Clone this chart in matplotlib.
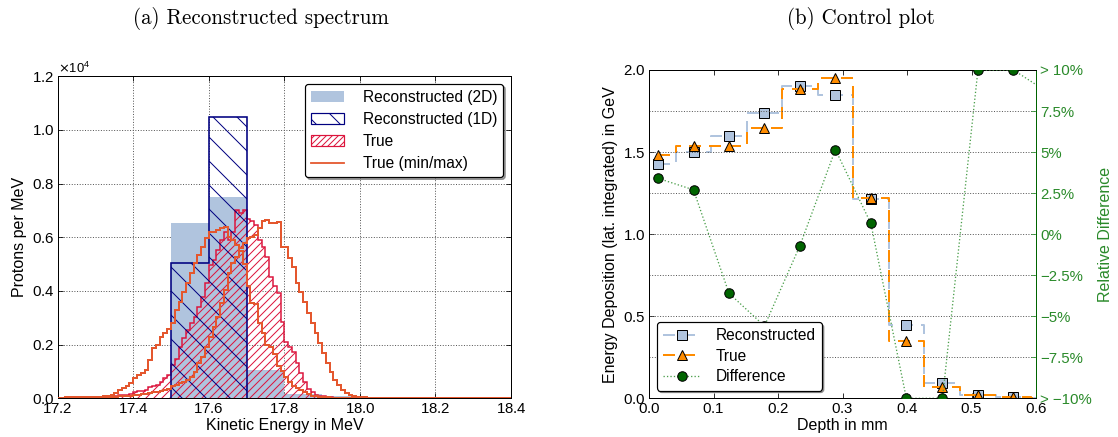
import numpy as np
import matplotlib
matplotlib.use("Agg")
import matplotlib.pyplot as plt
from matplotlib.patches import Patch
from matplotlib.lines import Line2D

plt.rcParams.update({
    "font.family": ["Liberation Sans", "DejaVu Sans"],
    "axes.formatter.use_mathtext": True,
    "axes.linewidth": 1.0,
    "hatch.linewidth": 1.0,
    "legend.edgecolor": "black",
})

# ---------------- (a) spectrum data (units of 1e4 protons per MeV) ----------------
reco2d_edges = [17.5, 17.6, 17.7, 17.8, 17.9, 18.0, 18.1]
reco2d_vals = [0.654, 0.751, 0.105, 0.015, 0.010, 0.006]

reco1d_edges = [17.5, 17.6, 17.7]
reco1d_vals = [0.506, 1.050]

fine_start = 17.20
fine_width = 0.01
true_vals = [
    0.002, 0.002, 0.003, 0.002, 0.003, 0.003, 0.004, 0.003, 0.004, 0.004,
    0.004, 0.005, 0.006, 0.007, 0.008, 0.010, 0.011, 0.012, 0.014, 0.016,
    0.022, 0.026, 0.028, 0.030, 0.043, 0.045, 0.050, 0.062, 0.075, 0.087,
    0.124, 0.145, 0.190, 0.223, 0.254, 0.280, 0.304, 0.341, 0.378, 0.428,
    0.496, 0.515, 0.552, 0.590, 0.620, 0.590, 0.620, 0.700, 0.690, 0.700,
    0.670, 0.660, 0.645, 0.590, 0.565, 0.527, 0.453, 0.420, 0.391, 0.285,
    0.210, 0.190, 0.174, 0.130, 0.095, 0.060, 0.035, 0.022, 0.014, 0.009,
    0.007, 0.005, 0.003, 0.002, 0.002, 0.001, 0.001, 0.001, 0.000, 0.000,
    0.000, 0.000, 0.000, 0.000, 0.000, 0.000, 0.000, 0.000, 0.000, 0.000,
]
true_min_vals = [
    0.002, 0.002, 0.003, 0.003, 0.003, 0.004, 0.004, 0.004, 0.005, 0.005,
    0.005, 0.006, 0.007, 0.009, 0.012, 0.020, 0.031, 0.037, 0.045, 0.056,
    0.074, 0.087, 0.095, 0.105, 0.143, 0.186, 0.200, 0.229, 0.242, 0.260,
    0.279, 0.329, 0.360, 0.397, 0.428, 0.466, 0.503, 0.534, 0.565, 0.596,
    0.620, 0.620, 0.627, 0.635, 0.639, 0.600, 0.590, 0.570, 0.550, 0.500,
    0.420, 0.355, 0.350, 0.280, 0.242, 0.200, 0.190, 0.165, 0.120, 0.100,
    0.080, 0.060, 0.045, 0.037, 0.030, 0.025, 0.015, 0.010, 0.007, 0.005,
    0.004, 0.003, 0.002, 0.002, 0.001, 0.001, 0.001, 0.000, 0.000, 0.000,
    0.000, 0.000, 0.000, 0.000, 0.000, 0.000, 0.000, 0.000, 0.000, 0.000,
]
true_max_vals = [
    0.001, 0.001, 0.001, 0.002, 0.002, 0.002, 0.002, 0.003, 0.003, 0.003,
    0.003, 0.004, 0.004, 0.005, 0.005, 0.006, 0.007, 0.008, 0.009, 0.010,
    0.012, 0.013, 0.015, 0.017, 0.020, 0.022, 0.025, 0.028, 0.031, 0.035,
    0.045, 0.050, 0.056, 0.062, 0.068, 0.080, 0.099, 0.130, 0.155, 0.192,
    0.229, 0.267, 0.304, 0.354, 0.403, 0.466, 0.503, 0.527, 0.560, 0.580,
    0.596, 0.600, 0.610, 0.633, 0.660, 0.665, 0.655, 0.655, 0.657, 0.565,
    0.565, 0.521, 0.490, 0.428, 0.397, 0.360, 0.317, 0.279, 0.242, 0.205,
    0.168, 0.130, 0.099, 0.068, 0.050, 0.031, 0.019, 0.012, 0.009, 0.006,
    0.004, 0.003, 0.002, 0.002, 0.001, 0.001, 0.001, 0.000, 0.000, 0.000,
]
energy_ticks = [17.2, 17.4, 17.6, 17.8, 18.0, 18.2, 18.4]

# ---------------- (b) control plot data ----------------
depth_mm = [0.014, 0.069, 0.124, 0.179, 0.234, 0.289, 0.344, 0.399, 0.455, 0.510, 0.565, 0.620]
edep_reco = [1.430, 1.500, 1.600, 1.740, 1.900, 1.850, 1.215, 0.445, 0.092, 0.018, 0.006, 0.002]
edep_true = [1.480, 1.540, 1.540, 1.645, 1.885, 1.950, 1.220, 0.350, 0.070, 0.020, 0.005, 0.002]
rel_diff_pct = [3.4, 2.7, -3.6, -5.6, -0.7, 5.15, 0.65, -10.0, -10.0, 10.0, 10.0, 8.6]
diff_ticks = [-10, -7.5, -5, -2.5, 0, 2.5, 5, 7.5, 10]
diff_ticklabels = ["> \u221210%", "\u22127.5%", "\u22125%", "\u22122.5%", "0%",
                   "2.5%", "5%", "7.5%", "> 10%"]

SCALE = 1e4
C_2D = "#b0c4de"
C_1D = "#000080"
C_TRUE = "#dc143c"
C_MINMAX = "#e4572e"
C_ORANGE = "#ff8c00"
C_GREEN_TXT = "#2a8a2a"
C_GREEN_MK = "#006400"
C_GREEN_LN = "#4a9e4a"

TICK_FS = 15
LABEL_FS = 16
LEGEND_FS = 15.5

W, H = 1118, 437
DPI = 72
fig = plt.figure(figsize=(W / DPI, H / DPI), dpi=DPI, facecolor="white")

ax_a = fig.add_axes([57.7 / W, 1 - 398.3 / H, (511 - 57.7) / W, (398.3 - 76.3) / H])
ax_b = fig.add_axes([649 / W, 1 - 398.3 / H, (1036 - 649) / W, (398.3 - 70) / H])

# ---------------- panel (a) ----------------
n_fine = len(true_vals)
fine_edges = np.round(fine_start + fine_width * np.arange(n_fine + 1), 3)
pad_bins = int(round((18.4 - fine_edges[-1]) / fine_width))
pad_edges = np.round(fine_edges[-1] + fine_width * np.arange(1, pad_bins + 1), 3)
line_edges = np.concatenate([fine_edges, pad_edges])

ax_a.stairs(np.array(reco2d_vals) * SCALE, reco2d_edges, fill=True,
            facecolor=C_2D, edgecolor="none", linewidth=0, zorder=1)
ax_a.stairs(np.array(true_vals) * SCALE, fine_edges, fill=True,
            facecolor="none", edgecolor=C_TRUE, hatch="///", linewidth=1.5, zorder=2)
ax_a.stairs(np.array(reco1d_vals) * SCALE, reco1d_edges, fill=True,
            facecolor="none", edgecolor=C_1D, hatch="\\", linewidth=1.6, zorder=3)
for vals in (true_min_vals, true_max_vals):
    padded = np.concatenate([vals, np.zeros(pad_bins)])
    ax_a.stairs(padded * SCALE, line_edges, fill=False,
                edgecolor=C_MINMAX, linewidth=2.0, zorder=4)

ax_a.set_xlim(17.2, 18.4)
ax_a.set_ylim(0, 1.2 * SCALE)
ax_a.set_xticks(energy_ticks)
ax_a.set_yticks(np.arange(0, 1.21, 0.2) * SCALE)
ax_a.ticklabel_format(axis="y", style="sci", scilimits=(0, 0))
ax_a.yaxis.get_offset_text().set_fontsize(TICK_FS - 2)
ax_a.grid(True, linestyle=":", color="0.35", linewidth=1.0)
ax_a.set_axisbelow(True)
ax_a.tick_params(direction="in", top=True, right=True, length=5, labelsize=TICK_FS)
ax_a.set_xlabel("Kinetic Energy in MeV", fontsize=LABEL_FS, labelpad=2)
ax_a.set_ylabel("Protons per MeV", fontsize=LABEL_FS, labelpad=5)

handles_a = [
    Patch(facecolor=C_2D, edgecolor="none"),
    Patch(facecolor="none", edgecolor=C_1D, hatch="\\", linewidth=1.2),
    Patch(facecolor="none", edgecolor=C_TRUE, hatch="////", linewidth=1.2),
    Line2D([], [], color=C_MINMAX, linewidth=1.8),
]
labels_a = ["Reconstructed (2D)", "Reconstructed (1D)", "True", "True (min/max)"]
leg_a = ax_a.legend(handles_a, labels_a, loc="upper right", fontsize=LEGEND_FS,
                    fancybox=True, shadow=True, framealpha=1, handlelength=2.1,
                    handleheight=0.7, handletextpad=1.2, borderpad=0.4,
                    labelspacing=0.45, borderaxespad=0.5)
leg_a.get_frame().set_linewidth(1.2)

# ---------------- panel (b) ----------------
ax_d = ax_b.twinx()

ln_reco, = ax_b.plot(depth_mm, edep_reco, drawstyle="steps-mid", color=C_2D,
                     linestyle="--", dashes=(6, 4), linewidth=2,
                     marker="s", markersize=9.5, markerfacecolor=C_2D,
                     markeredgecolor="black", markeredgewidth=1.0, zorder=3)
ln_true, = ax_b.plot(depth_mm, edep_true, drawstyle="steps-mid", color=C_ORANGE,
                     linestyle="--", dashes=(6, 4), linewidth=2,
                     marker="^", markersize=10, markerfacecolor=C_ORANGE,
                     markeredgecolor="black", markeredgewidth=1.0, zorder=4)
ln_diff, = ax_d.plot(depth_mm, rel_diff_pct, color=C_GREEN_LN, linestyle=":",
                     linewidth=1.3, marker="o", markersize=9.5,
                     markerfacecolor=C_GREEN_MK, markeredgecolor="black",
                     markeredgewidth=1.0, zorder=3)

ax_b.set_xlim(0, 0.6)
ax_b.set_ylim(0, 2.0)
ax_b.set_xticks(np.arange(0, 0.61, 0.1))
ax_b.set_yticks(np.arange(0, 2.01, 0.5))
ax_b.tick_params(direction="in", top=True, right=False, length=5, labelsize=TICK_FS)
ax_b.set_xlabel("Depth in mm", fontsize=LABEL_FS, labelpad=2)
ax_b.set_ylabel("Energy Deposition (lat. integrated) in GeV", fontsize=LABEL_FS, labelpad=5)

ax_d.set_ylim(-10, 10)
ax_d.set_yticks(diff_ticks)
ax_d.set_yticklabels(diff_ticklabels)
ax_d.tick_params(axis="y", direction="in", length=5, labelsize=TICK_FS,
                 colors=C_GREEN_TXT, pad=4)
ax_d.spines["right"].set_color(C_GREEN_MK)
ax_d.grid(True, axis="y", linestyle=":", color="0.35", linewidth=1.0)
ax_d.set_ylabel("Relative Difference", color=C_GREEN_TXT, fontsize=LABEL_FS, labelpad=6)

leg_b = ax_d.legend([ln_reco, ln_true, ln_diff], ["Reconstructed", "True", "Difference"],
                    loc="lower left", fontsize=LEGEND_FS, fancybox=True, shadow=True,
                    framealpha=1, handlelength=2.4, handletextpad=1.0,
                    borderpad=0.4, labelspacing=0.35, borderaxespad=0.5)
leg_b.get_frame().set_linewidth(1.2)

# ---------------- sub-captions ----------------
fig.text(261 / W, 1 - 18 / H, "(a) Reconstructed spectrum", ha="center", va="center",
         family="cmr10", fontsize=21)
fig.text(861 / W, 1 - 18 / H, "(b) Control plot", ha="center", va="center",
         family="cmr10", fontsize=21)

fig.savefig("out.png", dpi=DPI, facecolor="white")
